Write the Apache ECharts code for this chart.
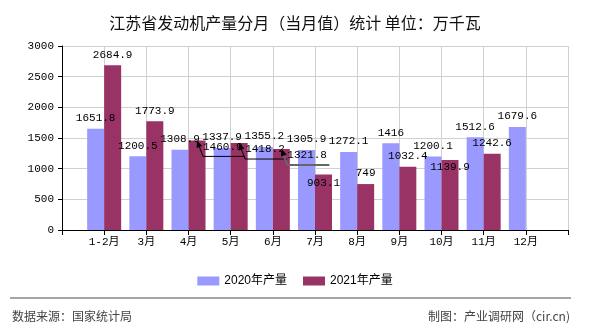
<!DOCTYPE html>
<html>
<head>
<meta charset="utf-8">
<script src="https://cdn.jsdelivr.net/npm/echarts@6/dist/echarts.min.js"></script>
<style>
html,body{margin:0;padding:0;background:#fff;}
#main{width:590px;height:330px;}
</style>
</head>
<body>
<div id="main"></div>
<script>
var categories = ['', '1-2月', '3月', '4月', '5月', '6月', '7月', '8月', '9月', '10月', '11月', '12月', ''];
var prod2020 = [null, 1651.8, 1200.5, 1308.9, 1337.9, 1355.2, 1305.9, 1272.1, 1416, 1200.1, 1512.6, 1679.6, null];
var prod2021 = [null, 2684.9, 1773.9, 1460.9, 1418.2, 1321.8, 903.1, 749, 1032.4, 1139.9, 1242.6, null, null];
var seriesNames = ['2020年产量', '2021年产量'];
var titleText = '江苏省发动机产量分月（当月值）统计 单位：万千瓦';

var BAR_W = 17;
var monoFont = '"Liberation Mono", "Noto Sans CJK SC", monospace';
var labelBase = { show: true, position: 'top', distance: 5, color: '#000', fontFamily: monoFont, fontSize: 11 };

// 2021 labels shifted beside the bar with a leader line (indices)
var leaderIdx = [3, 4, 5];
// 2021 labels drawn just inside the bar top (index -> offset)
var insideLabels = { 6: [0, -2], 9: [0, -3] };

function toData(arr, isSecond) {
  return arr.map(function (v, i) {
    if (v === null) return '-';
    if (isSecond && insideLabels[i]) {
      return { value: v, label: { position: 'insideTop', offset: insideLabels[i] } };
    }
    if (isSecond && leaderIdx.indexOf(i) >= 0) {
      return { value: v, label: { position: [BAR_W / 2 + 6, 1], align: 'left', verticalAlign: 'top' } };
    }
    return v;
  });
}

var chart = echarts.init(document.getElementById('main'), null, { renderer: 'canvas' });
chart.setOption({
  animation: false,
  backgroundColor: '#fff',
  title: {
    text: titleText,
    left: 'center',
    top: 10,
    textStyle: { fontFamily: '"Noto Sans CJK SC", sans-serif', fontSize: 16, fontWeight: 'normal', color: '#111' }
  },
  legend: {
    data: seriesNames,
    left: 'center',
    top: 270,
    itemWidth: 22,
    itemHeight: 9,
    itemGap: 16,
    icon: 'rect',
    textStyle: { fontFamily: '"Liberation Sans", "Noto Sans CJK SC", sans-serif', fontSize: 12, color: '#000' }
  },
  grid: { left: 62, right: 22, top: 46, bottom: 100, containLabel: false },
  xAxis: {
    type: 'category',
    data: categories,
    boundaryGap: false,
    axisLine: { lineStyle: { color: '#000', width: 1 } },
    axisTick: { show: true, length: 5, lineStyle: { color: '#000' } },
    axisLabel: { color: '#000', fontFamily: monoFont, fontSize: 11, margin: 7, interval: 0 },
    splitLine: { show: true, lineStyle: { color: '#d0d0d0', width: 1 } }
  },
  yAxis: {
    type: 'value',
    min: 0,
    max: 3000,
    interval: 500,
    axisLine: { show: true, lineStyle: { color: '#000', width: 1 } },
    axisTick: { show: true, length: 4, lineStyle: { color: '#000' } },
    axisLabel: { color: '#000', fontFamily: monoFont, fontSize: 11, margin: 8, formatter: function (v) { return String(v); } },
    splitLine: { show: true, lineStyle: { color: '#d0d0d0', width: 1 } }
  },
  series: [
    {
      name: seriesNames[0],
      type: 'bar',
      barWidth: BAR_W,
      barGap: '0%',
      itemStyle: { color: '#9999FF' },
      label: labelBase,
      data: toData(prod2020, false)
    },
    {
      name: seriesNames[1],
      type: 'bar',
      barWidth: BAR_W,
      barGap: '0%',
      itemStyle: { color: '#993366' },
      label: labelBase,
      data: toData(prod2021, true)
    }
  ]
});

// leader lines with arrowheads, positioned through the chart's own scales
var graphics = [
  { type: 'line', shape: { x1: 10, y1: 298, x2: 571, y2: 298 }, style: { stroke: '#888', lineWidth: 1.5 } },
  { type: 'text', left: 12, top: 310, style: { text: '数据来源：国家统计局', fill: '#444', font: '12px "Noto Sans CJK SC", sans-serif' } },
  { type: 'text', right: 20, top: 310, style: { text: '制图：产业调研网（cir.cn)', fill: '#444', font: '12px "Noto Sans CJK SC", sans-serif' } }
];
leaderIdx.forEach(function (i, k) {
  var p = chart.convertToPixel({ xAxisIndex: 0, yAxisIndex: 0 }, [i, prod2021[i]]);
  var bx = p[0] + BAR_W / 2, by = p[1];
  var ex = bx + 6, ey = by + 16;
  var col = k === 2 ? '#666' : '#000';
  var lw = k === 2 ? 2 : 1;
  graphics.push({
    type: 'polyline', z: 100,
    shape: { points: [[bx + 1, by + 3], [ex, ey], [ex + 42, ey]] },
    style: { stroke: col, lineWidth: lw, fill: null }
  });
  var dx = bx - ex, dy = by - ey, len = Math.sqrt(dx * dx + dy * dy);
  var ux = dx / len, uy = dy / len, nx = -uy, ny = ux;
  var L = 7, W = 3;
  graphics.push({
    type: 'polygon', z: 100,
    shape: { points: [[bx, by], [bx - ux * L + nx * W, by - uy * L + ny * W], [bx - ux * L - nx * W, by - uy * L - ny * W]] },
    style: { fill: '#000' }
  });
});
chart.setOption({ graphic: graphics });
</script>
</body>
</html>
